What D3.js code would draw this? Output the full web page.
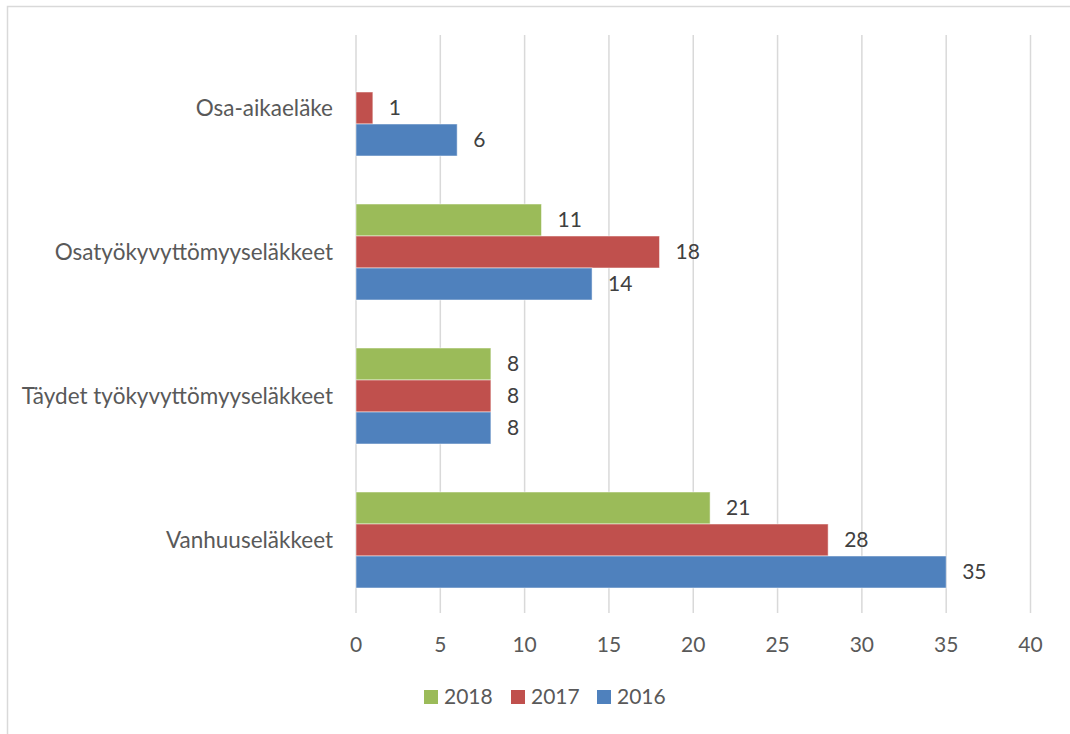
<!DOCTYPE html>
<html>
<head>
<meta charset="utf-8">
<script src="https://cdn.jsdelivr.net/npm/d3@7"></script>
<style>
    body { margin: 0; background: #fff; }
    svg { display: block; font-family: Lato, "Open Sans", sans-serif; }
</style>
</head>
<body>
<svg></svg>
<script>
// chart values
const categories = ['Osa-aikaeläke', 'Osatyökyvyttömyyseläkkeet', 'Täydet työkyvyttömyyseläkkeet', 'Vanhuuseläkkeet'];
const seriesNames = ['2018', '2017', '2016'];
const values2018 = [null, 11, 8, 21];
const values2017 = [1, 18, 8, 28];
const values2016 = [6, 14, 8, 35];
const xTicks = [0, 5, 10, 15, 20, 25, 30, 35, 40];

(() => {
    const width = 1070, height = 734;
    const plot = { left: 356, right: 1030.5, top: 36, bottom: 612 };
    const colors = { '2018': '#9BBB59', '2017': '#C0504D', '2016': '#4F81BD' };
    const seriesValues = { '2018': values2018, '2017': values2017, '2016': values2016 };

    const svg = d3.select('svg')
        .attr('width', width)
        .attr('height', height);

    // chart area border (cut off on the right and bottom)
    svg.append('rect')
        .attr('x', 7.5).attr('y', 6.5)
        .attr('width', 1200).attr('height', 900)
        .attr('fill', 'none')
        .attr('stroke', '#d9d9d9')
        .attr('stroke-width', 1.5);

    const x = d3.scaleLinear()
        .domain([0, 40])
        .range([plot.left, plot.right]);

    const y = d3.scaleBand()
        .domain(categories)
        .range([plot.top, plot.bottom])
        .paddingInner(1 / 3)
        .paddingOuter(1 / 6);

    const ySub = d3.scaleBand()
        .domain(seriesNames)
        .range([0, y.bandwidth()]);

    // gridlines
    svg.append('g')
        .selectAll('line')
        .data(xTicks)
        .enter().append('line')
        .attr('x1', d => x(d)).attr('x2', d => x(d))
        .attr('y1', plot.top - 1).attr('y2', plot.bottom + 1)
        .attr('stroke', '#d9d9d9')
        .attr('stroke-width', 1.5);

    // x tick labels
    svg.append('g')
        .selectAll('text')
        .data(xTicks)
        .enter().append('text')
        .attr('x', d => x(d))
        .attr('y', 645)
        .attr('dy', '0.35em')
        .attr('text-anchor', 'middle')
        .attr('font-size', 21)
        .attr('fill', '#595959')
        .text(d => d);

    // category labels
    svg.append('g')
        .selectAll('text')
        .data(categories)
        .enter().append('text')
        .attr('x', plot.left - 23)
        .attr('y', d => y(d) + y.bandwidth() / 2)
        .attr('dy', '0.35em')
        .attr('text-anchor', 'end')
        .attr('font-size', 22.5)
        .attr('fill', '#595959')
        .text(d => d);

    // bars
    const rows = [];
    seriesNames.forEach(s => {
        categories.forEach((c, i) => {
            const v = seriesValues[s][i];
            if (v !== null) rows.push({ series: s, category: c, value: v });
        });
    });

    const bars = svg.append('g');
    bars.selectAll('rect')
        .data(rows)
        .enter().append('rect')
        .attr('x', x(0))
        .attr('y', d => y(d.category) + ySub(d.series))
        .attr('width', d => x(d.value) - x(0))
        .attr('height', ySub.bandwidth())
        .attr('fill', d => colors[d.series])
        .attr('stroke', '#fff')
        .attr('stroke-opacity', 0.5)
        .attr('stroke-width', 1);

    // data labels
    bars.selectAll('text')
        .data(rows)
        .enter().append('text')
        .attr('x', d => x(d.value) + 16)
        .attr('y', d => y(d.category) + ySub(d.series) + ySub.bandwidth() / 2)
        .attr('dy', '0.35em')
        .attr('font-size', 21)
        .attr('fill', '#404040')
        .text(d => d.value);

    // legend
    const legend = svg.append('g');
    const legendX = [424, 511, 597];
    const keys = legend.selectAll('g')
        .data(seriesNames)
        .enter().append('g')
        .attr('transform', (d, i) => `translate(${legendX[i]}, 697)`);

    keys.append('rect')
        .attr('x', 0).attr('y', -7)
        .attr('width', 14).attr('height', 14)
        .attr('fill', d => colors[d]);

    keys.append('text')
        .attr('x', 20)
        .attr('dy', '0.35em')
        .attr('font-size', 21)
        .attr('fill', '#595959')
        .text(d => d);
})()
</script>
</body>
</html>
